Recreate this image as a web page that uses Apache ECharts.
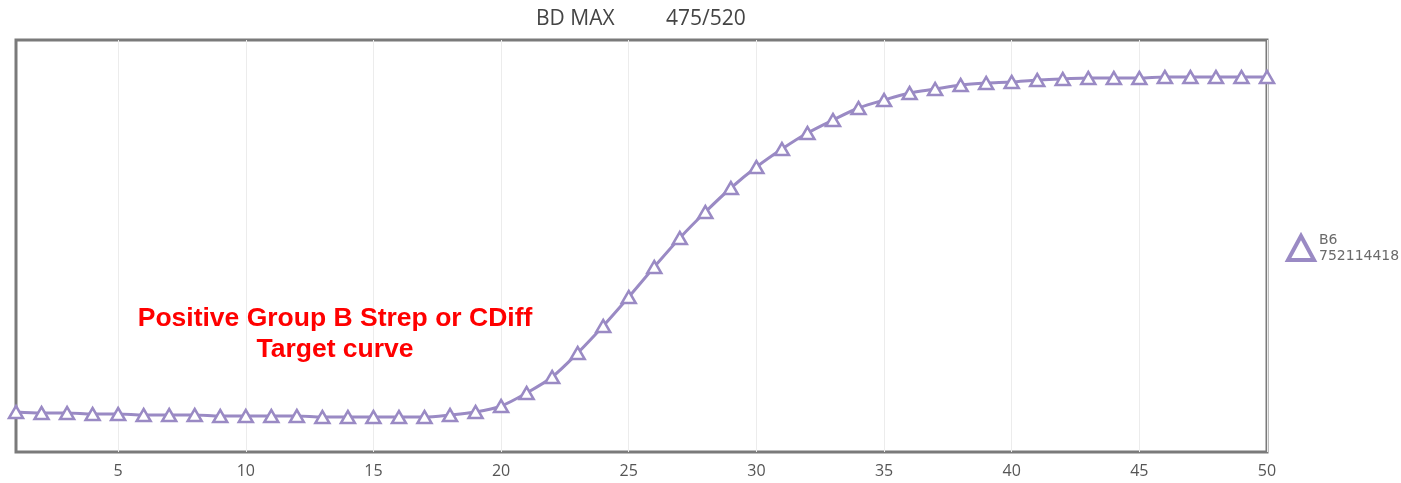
<!DOCTYPE html>
<html>
<head>
<meta charset="utf-8">
<script src="https://cdn.jsdelivr.net/npm/echarts@6/dist/echarts.min.js"></script>
<style>html,body{margin:0;padding:0;background:#fff}#c{width:1401px;height:483px}</style>
</head>
<body>
<div id="c"></div>
<script>
const cycles = Array.from({length: 50}, (_, i) => String(i + 1));
const seriesName = 'B6\n752114418';
const fluorescence = [40,39,39,38,38,37,37,37,36,36,36,36,35,35,35,35,35,37,40,46,59,75,99,126,155,185,214,240,264,285,303,319,332,344,352,359,363,367,369,370,372,373,374,374,374,375,375,375,375,375];
const titleLeft = 'BD MAX';
const titleRight = '475/520';
const annotation = 'Positive Group B Strep or CDiff\nTarget curve';

const purple = '#9a8ac4';
const chart = echarts.init(document.getElementById('c'));
chart.setOption({
  backgroundColor: '#fff',
  animation: false,
  title: [
    {text: titleLeft, left: 531, top: 4, textStyle: {fontFamily: 'Open Sans', fontSize: 21, fontWeight: 'normal', color: '#444'}},
    {text: titleRight, left: 661, top: 4, textStyle: {fontFamily: 'Open Sans', fontSize: 21, fontWeight: 'normal', color: '#444'}}
  ],
  legend: {
    left: 1281, top: 227, orient: 'vertical',
    icon: 'triangle', itemWidth: 26, itemHeight: 24, itemGap: 4,
    itemStyle: {color: '#fff', borderColor: purple, borderWidth: 4},
    textStyle: {fontFamily: 'DejaVu Sans', fontSize: 14, color: '#6a6a6a', lineHeight: 16},
    data: [seriesName]
  },
  grid: {left: 16, right: 134, top: 40, bottom: 31, show: true, borderColor: '#7a7a7a', borderWidth: 3},
  xAxis: {
    type: 'category', data: cycles, boundaryGap: false,
    axisLine: {show: false}, axisTick: {show: false},
    axisLabel: {interval: (i) => (i + 1) % 5 === 0, color: '#555', fontFamily: 'Open Sans', fontSize: 16, margin: 11},
    splitLine: {show: true, interval: (i) => (i + 1) % 5 === 0, lineStyle: {color: '#ececec', width: 1}}
  },
  yAxis: {type: 'value', min: 0, max: 412, show: false, splitLine: {show: false}},
  series: [{
    name: seriesName, type: 'line', data: fluorescence, smooth: 0.3,
    symbol: 'triangle', symbolSize: [14, 12],
    lineStyle: {color: purple, width: 3},
    itemStyle: {color: '#fff', borderColor: purple, borderWidth: 2.5}
  }],
  graphic: [{
    type: 'text', left: 335 - 220, top: 303, z: 100,
    style: {text: annotation, width: 440, align: 'center', textAlign: 'center', fill: '#ff0000', font: 'bold 26.5px "Liberation Sans", Arial', lineHeight: 31}
  }]
});
</script>
</body>
</html>
